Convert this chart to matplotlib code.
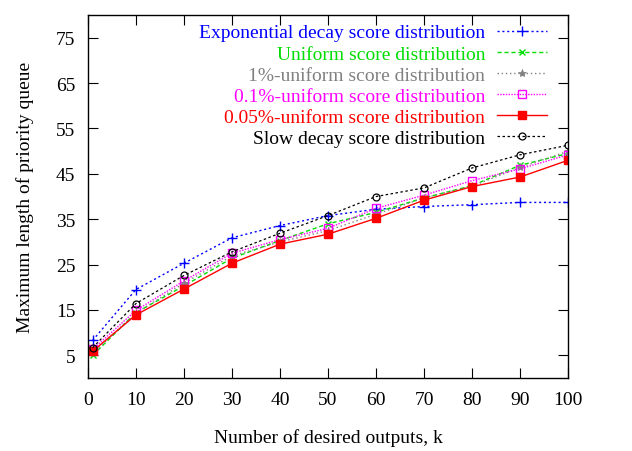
import matplotlib
matplotlib.use("Agg")
import matplotlib.pyplot as plt

# Values
k = [1, 10, 20, 30, 40, 50, 60, 70, 80, 90, 100]

exp_decay   = [8.3, 19.5, 25.3, 30.9, 33.6, 35.8, 37.2, 37.8, 38.2, 38.7, 38.7]
uniform     = [5.0, 14.4, 20.3, 26.4, 30.3, 34.0, 36.5, 39.7, 42.4, 46.9, 49.5]
uniform_1   = [5.5, 14.3, 20.9, 26.9, 30.0, 32.5, 36.1, 39.7, 42.3, 46.4, 50.0]
uniform_01  = [6.3, 14.9, 21.4, 27.5, 30.5, 33.0, 37.4, 40.3, 43.5, 46.1, 49.2]
uniform_005 = [5.9, 13.9, 19.6, 25.3, 29.5, 31.7, 35.2, 39.2, 42.2, 44.3, 48.0]
slow_decay  = [6.7, 16.4, 22.6, 27.8, 31.9, 35.8, 40.0, 41.9, 46.3, 49.2, 51.3]

labels = [
    "Exponential decay score distribution",
    "Uniform score distribution",
    "1%-uniform score distribution",
    "0.1%-uniform score distribution",
    "0.05%-uniform score distribution",
    "Slow decay score distribution",
]

x_ticks = [0, 10, 20, 30, 40, 50, 60, 70, 80, 90, 100]
y_ticks = [5, 15, 25, 35, 45, 55, 65, 75]

plt.rcParams["font.family"] = ["Liberation Serif", "DejaVu Serif"]

fig = plt.figure(figsize=(6.32, 4.52), dpi=100)
ax = fig.add_axes([0.139, 0.1615, 0.760, 0.803])

ax.plot(k, exp_decay, color="blue", linestyle=(0, (1.5, 2)), lw=1,
        marker="+", ms=7, mew=1, label=labels[0])
ax.plot(k, uniform, color="#00dd00", linestyle=(0, (3, 2)), lw=1,
        marker="x", ms=5, mew=1, label=labels[1])
ax.plot(k, uniform_1, color="gray", linestyle=(0, (1, 2)), lw=1,
        marker="*", ms=6, mew=0.5, label=labels[2])
ax.plot(k, uniform_01, color="magenta", linestyle=(0, (1, 1)), lw=1,
        marker="s", ms=6, mfc="none", mew=1, label=labels[3])
ax.plot(k, uniform_005, color="red", linestyle="-", lw=1,
        marker="s", ms=6, label=labels[4])
ax.plot(k, slow_decay, color="black", linestyle=(0, (2, 2)), lw=0.9,
        marker="o", ms=5, mfc="none", mew=0.9, label=labels[5])

ax.set_xlim(0, 100)
ax.set_ylim(0, 80)
ax.set_xticks(x_ticks)
ax.set_yticks(y_ticks)
ax.tick_params(direction="in", length=7, width=0.8, top=True, right=True,
               labelsize=14, pad=9)
for s in ax.spines.values():
    s.set_linewidth(1)

ax.set_xlabel("Number of desired outputs, k", fontsize=14, labelpad=15)
ax.set_ylabel("Maximum length of priority queue", fontsize=14, labelpad=16)

ax.legend(loc="upper right", bbox_to_anchor=(0.975, 1.0), frameon=False,
          markerfirst=False, labelcolor="linecolor", fontsize=14,
          handlelength=2.6, labelspacing=0.18, borderaxespad=0.0,
          handletextpad=0.6, borderpad=0.45)

fig.savefig("out.png", dpi=100)
